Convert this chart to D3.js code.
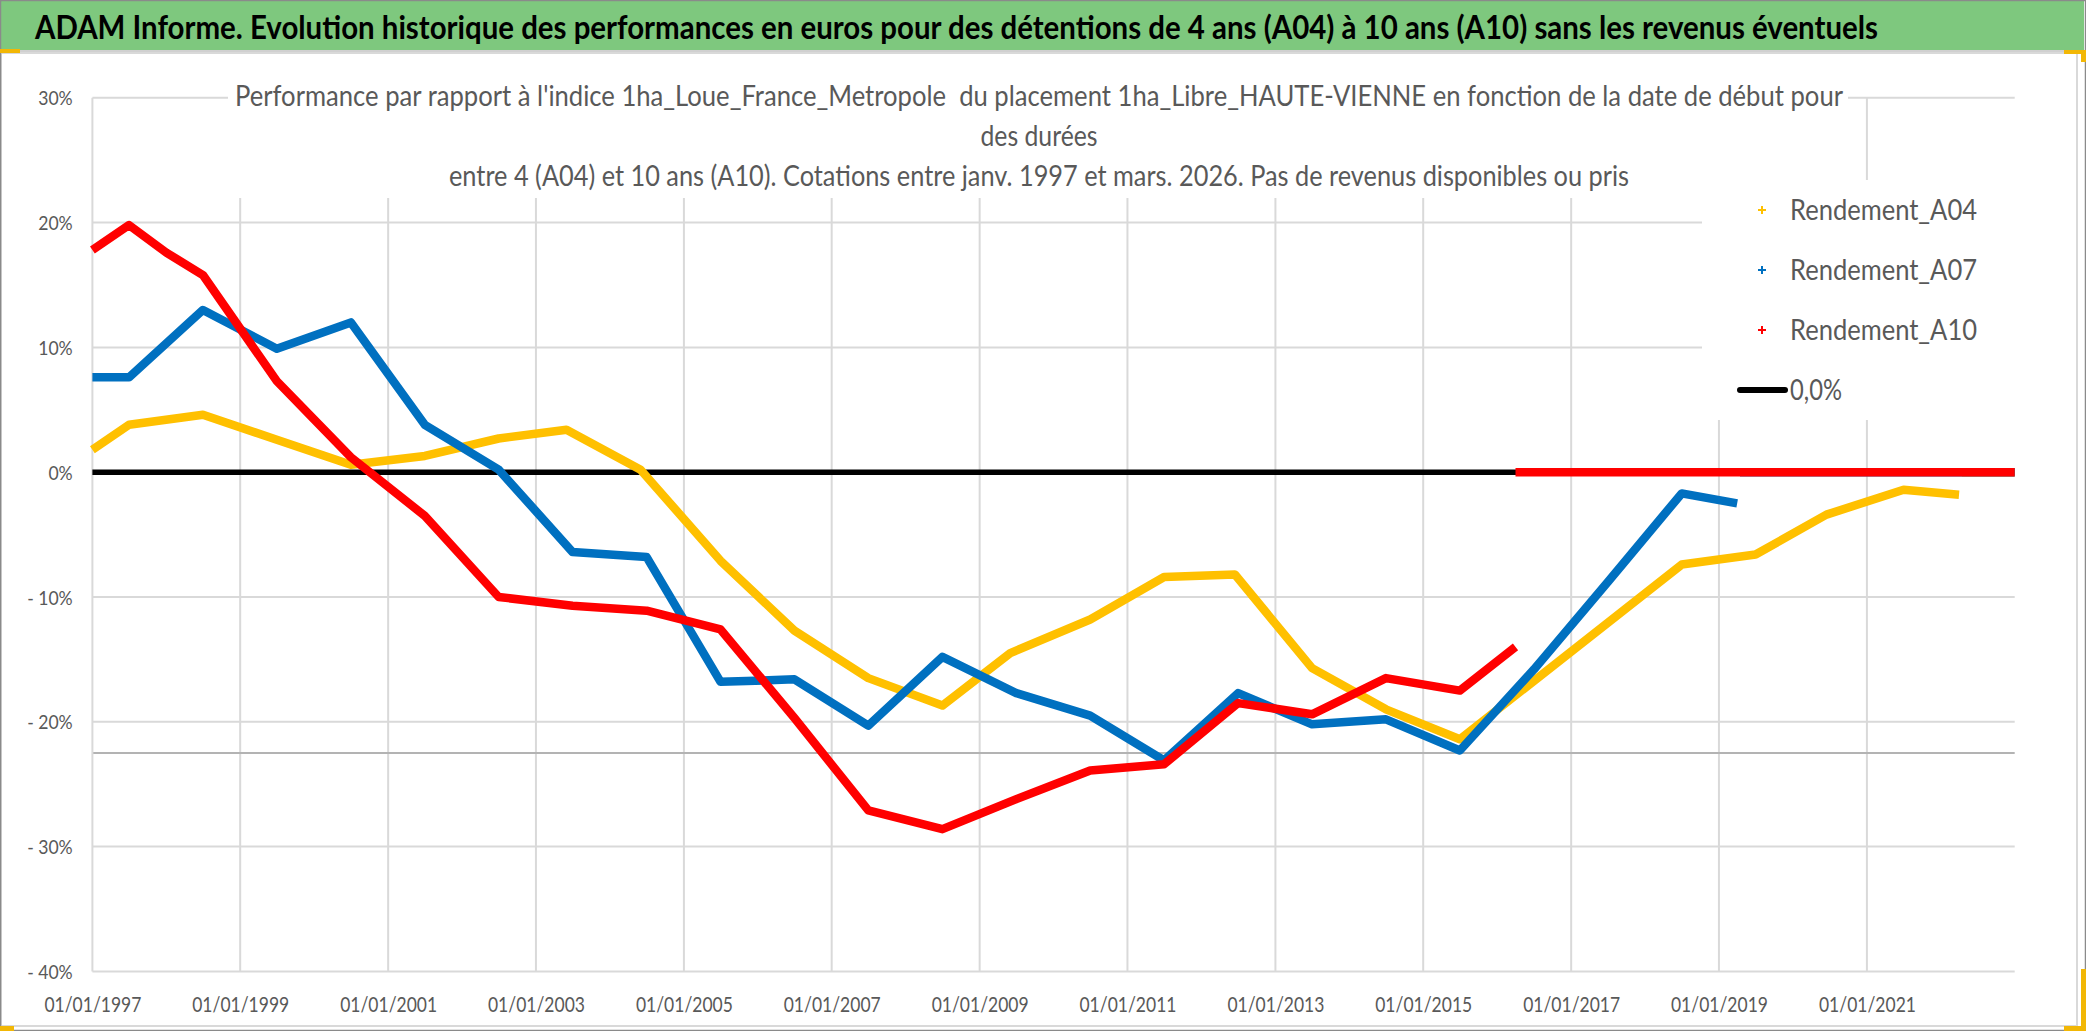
<!DOCTYPE html>
<html><head><meta charset="utf-8">
<script src="https://cdn.jsdelivr.net/npm/d3@7"></script>
<style>
html,body{margin:0;padding:0;background:#fff;overflow:hidden}
svg{display:block}
text{font-family:Lato,"Open Sans","DejaVu Sans",sans-serif;white-space:pre}
</style>
</head><body>
<svg id="c" width="2086" height="1031"></svg>
<script>
// ---------- DATA ----------
const titleText = "ADAM Informe. Evolution historique des performances en euros pour des détentions de 4 ans (A04) à 10 ans (A10) sans les revenus éventuels";
const subtitleLines = [
  "Performance par rapport à l'indice 1ha_Loue_France_Metropole  du placement 1ha_Libre_HAUTE-VIENNE en fonction de la date de début pour",
  "des durées",
  "entre 4 (A04) et 10 ans (A10). Cotations entre janv. 1997 et mars. 2026. Pas de revenus disponibles ou pris"
];
const xTickLabels = ["01/01/1997","01/01/1999","01/01/2001","01/01/2003","01/01/2005","01/01/2007","01/01/2009","01/01/2011","01/01/2013","01/01/2015","01/01/2017","01/01/2019","01/01/2021"];
const xDomain = ["1997-01-01","2023-01-01"];
const yTickValues = [0.3,0.2,0.1,0,-0.1,-0.2,-0.3,-0.4];
const yTickLabels = ["30%","20%","10%","0%","- 10%","- 20%","- 30%","- 40%"];
const seriesNames = ["Rendement_A04","Rendement_A07","Rendement_A10","0,0%"];
const seriesColors = ["#FFC000","#0070C0","#FF0000","#000000"];

// values in %
const rendementA04 = [
  ["1997-01-01",1.8],["1997-07-01",3.8],["1998-07-01",4.6],["1999-07-01",2.6],["2000-07-01",0.6],
  ["2001-07-01",1.3],["2002-07-01",2.7],["2003-06-01",3.4],["2004-06-01",0.2],["2005-07-01",-7.1],
  ["2006-07-01",-12.7],["2007-07-01",-16.5],["2008-07-01",-18.7],["2009-06-01",-14.5],["2010-07-01",-11.8],
  ["2011-07-01",-8.4],["2012-06-15",-8.2],["2013-07-01",-15.7],["2014-07-01",-19.0],["2015-07-01",-21.4],
  ["2018-07-01",-7.4],["2019-07-01",-6.6],["2020-06-15",-3.4],["2021-07-01",-1.4],["2022-04-01",-1.8]
];
const rendementA04Tail = [["2022-04-15",0],["2023-01-01",0]];

const rendementA07 = [
  ["1997-01-01",7.6],["1997-07-01",7.6],["1998-07-01",13.0],["1999-07-01",9.9],["2000-07-01",12.0],
  ["2001-07-01",3.8],["2002-07-01",0.2],["2003-07-01",-6.4],["2004-07-01",-6.8],["2005-07-01",-16.8],
  ["2006-07-01",-16.6],["2007-07-01",-20.3],["2008-07-01",-14.8],["2009-07-01",-17.7],["2010-07-01",-19.5],
  ["2011-07-01",-23.1],["2012-07-01",-17.7],["2013-07-01",-20.2],["2014-07-01",-19.8],["2015-07-01",-22.3],
  ["2016-07-01",-15.8],["2017-07-01",-8.8],["2018-07-01",-1.7],["2019-04-01",-2.5]
];
const rendementA07Tail = [["2019-04-15",0],["2023-01-01",0]];

const rendementA10 = [
  ["1997-01-01",17.8],["1997-07-01",19.8],["1998-01-01",17.6],["1998-07-01",15.8],["1999-07-01",7.3],
  ["2000-07-01",1.2],["2001-07-01",-3.5],["2002-07-01",-10.0],["2003-07-01",-10.7],["2004-07-01",-11.1],
  ["2005-07-01",-12.6],["2006-07-01",-19.7],["2007-07-01",-27.1],["2008-07-01",-28.6],["2009-07-01",-26.2],
  ["2010-07-01",-23.9],["2011-07-01",-23.4],["2012-07-01",-18.5],["2013-07-01",-19.4],["2014-07-01",-16.5],
  ["2015-07-01",-17.5],["2016-04-01",-14.0]
];
const rendementA10Tail = [["2016-04-01",0],["2023-01-01",0]];

const zeroLine = [["1997-01-01",0],["2023-01-01",0]];
const axisCrossLine = [["1997-01-01",-22.5],["2023-01-01",-22.5]];

// ---------- DRAW ----------
const svg = d3.select("#c");
const W = 2086, H = 1031;
const parse = d3.timeParse("%Y-%m-%d");
const parseTick = d3.timeParse("%d/%m/%Y");

const x = d3.scaleTime().domain(xDomain.map(parse)).range([92.4, 2014.7]);
const y = d3.scaleLinear().domain([-0.4, 0.3]).range([971.4, 97.8]);

// background / frame
svg.append("rect").attr("x",0).attr("y",0).attr("width",W).attr("height",H).attr("fill","#fff");
svg.append("rect").attr("x",1).attr("y",53).attr("width",2076).attr("height",973)
  .attr("fill","#fff").attr("stroke","#d9d9d9").attr("stroke-width",2);
svg.append("rect").attr("x",0).attr("y",0).attr("width",2084).attr("height",50).attr("fill","#7EC87E");
svg.append("line").attr("x1",0).attr("x2",2084).attr("y1",51).attr("y2",51).attr("stroke","#d0d0d0").attr("stroke-width",2);
svg.append("rect").attr("x",0.5).attr("y",0.5).attr("width",W-1).attr("height",H-1)
  .attr("fill","none").attr("stroke","#8a8a8a").attr("stroke-width",1.5);
// selection handles
const handleColor = "#F2B705";
svg.append("rect").attr("x",0).attr("y",49).attr("width",20).attr("height",4).attr("fill",handleColor);
svg.append("rect").attr("x",2064).attr("y",50).attr("width",22).attr("height",4).attr("fill",handleColor);
svg.append("rect").attr("x",2081).attr("y",50).attr("width",5).attr("height",12).attr("fill",handleColor);
svg.append("rect").attr("x",2081).attr("y",969).attr("width",5).attr("height",62).attr("fill",handleColor);
svg.append("rect").attr("x",2064).attr("y",1026).attr("width",22).attr("height",5).attr("fill",handleColor);
svg.append("rect").attr("x",0).attr("y",1026).attr("width",14).attr("height",5).attr("fill",handleColor);

// title
svg.append("text").attr("x",35).attr("y",38.5).attr("font-size",32).attr("font-weight",700)
  .attr("fill","#000").attr("textLength",1843).attr("lengthAdjust","spacingAndGlyphs").text(titleText);

// gridlines
const grid = svg.append("g");
const xTickDates = xTickLabels.map(parseTick);
grid.selectAll(".vg").data(xTickDates.slice(1)).join("line")
  .attr("x1",d=>x(d)).attr("x2",d=>x(d)).attr("y1",y(0.3)).attr("y2",y(-0.4))
  .attr("stroke","#d9d9d9").attr("stroke-width",2);
grid.selectAll(".hg").data(yTickValues).join("line")
  .attr("x1",x.range()[0]).attr("x2",x.range()[1]).attr("y1",d=>y(d)).attr("y2",d=>y(d))
  .attr("stroke","#d9d9d9").attr("stroke-width",2);

const line = d3.line().x(d=>x(parse(d[0]))).y(d=>y(d[1]/100));

// axis crossing line
svg.append("path").attr("d",line(axisCrossLine)).attr("fill","none").attr("stroke","#b3b3b3").attr("stroke-width",2.2);

// title box and legend box (white, hide gridlines)
svg.append("rect").attr("x",228).attr("y",60).attr("width",1620).attr("height",138).attr("fill","#fff");
svg.append("rect").attr("x",1702).attr("y",180).attr("width",316).attr("height",240).attr("fill","#fff");

// y axis line
svg.append("line").attr("x1",x.range()[0]).attr("x2",x.range()[0]).attr("y1",y(0.3)).attr("y2",y(-0.4))
  .attr("stroke","#d9d9d9").attr("stroke-width",2);

// subtitle
const subY = [106, 146, 186];
const subW = [1608, 117, 1180];
const sub = svg.append("g").attr("fill","#595959").attr("font-size",28).attr("text-anchor","middle");
subtitleLines.forEach((t,i)=>{
  sub.append("text").attr("x",1039).attr("y",subY[i]).attr("textLength",subW[i])
    .attr("lengthAdjust","spacingAndGlyphs").text(t);
});

// axes
const xAxis = d3.axisBottom(x).tickValues(xTickDates).tickFormat((d,i)=>xTickLabels[i]).tickSize(0).tickPadding(0);
const gx = svg.append("g").attr("transform",`translate(0,${y(-0.4)})`).call(xAxis);
gx.select(".domain").remove();
gx.selectAll("text").attr("y",41).attr("dy",0).attr("font-size",22).attr("fill","#595959")
  .attr("font-family","Lato, 'Open Sans', sans-serif")
  .attr("textLength",97).attr("lengthAdjust","spacingAndGlyphs");

const yAxis = d3.axisLeft(y).tickValues(yTickValues).tickFormat((d,i)=>yTickLabels[i]).tickSize(0).tickPadding(0);
const gy = svg.append("g").attr("transform",`translate(72.7,0)`).call(yAxis);
gy.select(".domain").remove();
gy.selectAll("text").attr("x",0).attr("dy","0.35em").attr("font-size",20).attr("fill","#595959")
  .attr("font-family","Lato, 'Open Sans', sans-serif")
  .each(function(){ const w=this.getComputedTextLength(); d3.select(this).attr("textLength",w*0.88).attr("lengthAdjust","spacingAndGlyphs"); });

// series
const plot = svg.append("g").attr("fill","none").attr("stroke-linejoin","round").attr("stroke-linecap","butt");
plot.append("path").attr("d",line(zeroLine)).attr("stroke",seriesColors[3]).attr("stroke-width",5.5);
const seriesData = [[rendementA04,rendementA04Tail],[rendementA07,rendementA07Tail],[rendementA10,rendementA10Tail]];
seriesData.forEach((s,i)=>{
  plot.append("path").attr("d",line(s[1])).attr("stroke",seriesColors[i]).attr("stroke-width",8.5);
  plot.append("path").attr("d",line(s[0])).attr("stroke",seriesColors[i]).attr("stroke-width",8.5);
});

// legend
const lg = svg.append("g");
const legY = [220, 280, 340, 400];
seriesNames.forEach((n,i)=>{
  if(i<3){
    const cx=1762, cy=legY[i]-10;
    lg.append("path").attr("d",`M${cx-4},${cy}H${cx+4}M${cx},${cy-4}V${cy+4}`)
      .attr("stroke",seriesColors[i]).attr("stroke-width",2).attr("fill","none");
  } else {
    lg.append("line").attr("x1",1740).attr("x2",1785).attr("y1",legY[i]-10).attr("y2",legY[i]-10)
      .attr("stroke","#000").attr("stroke-width",6).attr("stroke-linecap","round");
  }
  lg.append("text").attr("x",1790).attr("y",legY[i]).attr("font-size",28).attr("fill","#595959")
    .attr("textLength", i<3?187:52).attr("lengthAdjust","spacingAndGlyphs").text(n);
});
</script>
</body></html>
